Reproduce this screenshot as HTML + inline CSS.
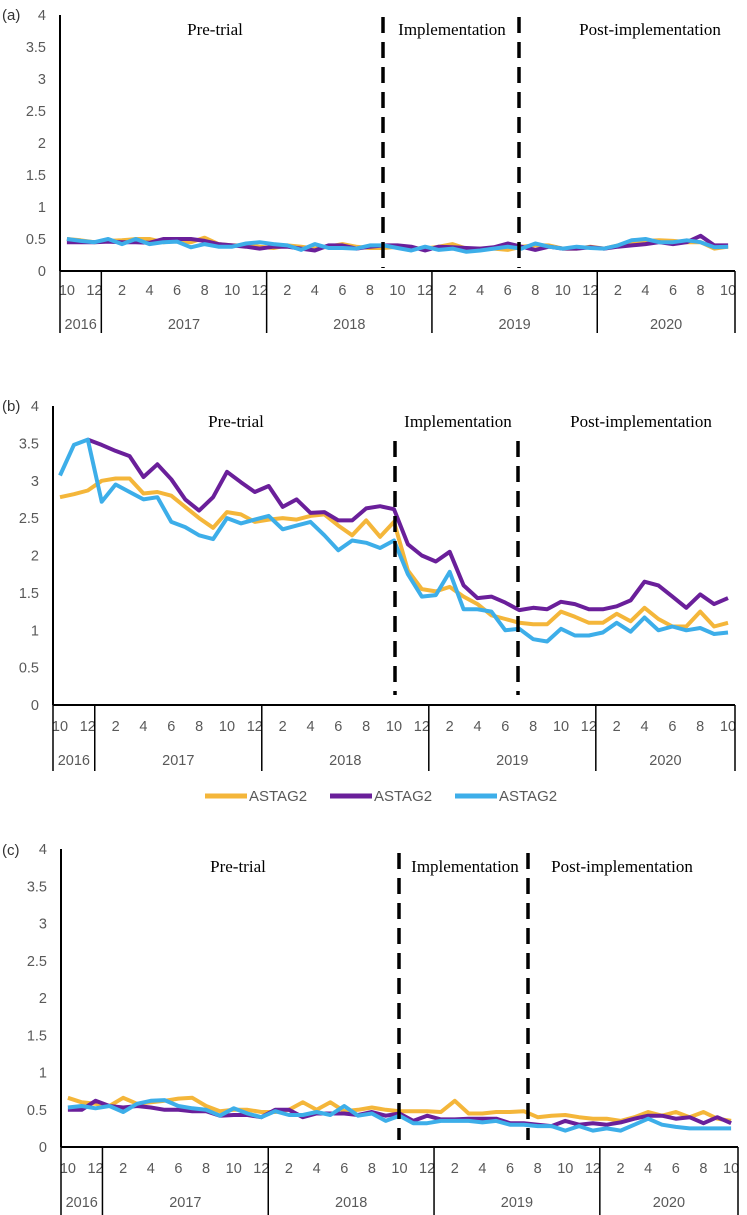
<!DOCTYPE html>
<html><head><meta charset="utf-8">
<style>
html,body{margin:0;padding:0;background:#fff;}
svg{display:block;}
.tick{font-family:"Liberation Sans",sans-serif;font-size:14.5px;fill:#595959;}
.ann{font-family:"Liberation Serif",serif;font-size:17px;fill:#000;}
.plab{font-family:"Liberation Sans",sans-serif;font-size:15px;fill:#333;}
</style></head>
<body>
<svg id="chart" width="747" height="1215" viewBox="0 0 747 1215" xmlns="http://www.w3.org/2000/svg"></svg>
<script>
const monthLabels = ["10","12","2","4","6","8","10","12","2","4","6","8","10","12","2","4","6","8","10","12","2","4","6","8","10"];
const yearLabels = ["2016","2017","2018","2019","2020"];
const yTicks = [0,0.5,1,1.5,2,2.5,3,3.5,4];
const seriesNames = ["ASTAG2","ASTAG2","ASTAG2"];
const seriesColors = ["#F4B63A","#6A1F9A","#3DAEE9"];

const aOrange = [0.5,0.48,0.45,0.47,0.48,0.5,0.5,0.45,0.47,0.45,0.52,0.42,0.4,0.4,0.38,0.36,0.4,0.38,0.35,0.38,0.42,0.38,0.36,0.36,0.38,0.36,0.35,0.38,0.42,0.35,0.35,0.35,0.33,0.38,0.4,0.4,0.35,0.35,0.38,0.35,0.4,0.42,0.47,0.48,0.47,0.45,0.45,0.35,0.38];
const aPurple = [0.45,0.45,0.45,0.46,0.45,0.45,0.44,0.5,0.5,0.5,0.47,0.42,0.4,0.38,0.35,0.38,0.38,0.35,0.32,0.4,0.4,0.35,0.38,0.4,0.4,0.38,0.32,0.38,0.37,0.36,0.35,0.37,0.43,0.38,0.33,0.38,0.35,0.35,0.37,0.35,0.38,0.4,0.42,0.45,0.42,0.45,0.55,0.4,0.4];
const aBlue = [0.5,0.47,0.45,0.5,0.42,0.5,0.42,0.45,0.46,0.37,0.42,0.38,0.38,0.43,0.45,0.42,0.4,0.33,0.42,0.36,0.36,0.35,0.4,0.4,0.36,0.32,0.38,0.33,0.35,0.3,0.32,0.35,0.38,0.35,0.43,0.38,0.35,0.38,0.36,0.35,0.4,0.48,0.5,0.45,0.45,0.48,0.45,0.37,0.38];

const bOrange = [2.78,2.82,2.87,3.0,3.03,3.03,2.83,2.85,2.8,2.65,2.5,2.37,2.58,2.55,2.45,2.48,2.5,2.48,2.53,2.55,2.4,2.27,2.47,2.25,2.45,1.8,1.55,1.52,1.58,1.45,1.35,1.2,1.15,1.1,1.08,1.08,1.25,1.18,1.1,1.1,1.22,1.12,1.3,1.15,1.05,1.05,1.25,1.05,1.1];
const bPurple = [null,null,3.55,3.48,3.4,3.33,3.05,3.22,3.02,2.75,2.6,2.78,3.12,2.98,2.85,2.93,2.65,2.75,2.57,2.58,2.47,2.47,2.63,2.66,2.62,2.15,2.0,1.92,2.05,1.6,1.43,1.45,1.37,1.27,1.3,1.28,1.38,1.35,1.28,1.28,1.32,1.4,1.65,1.6,1.45,1.3,1.48,1.35,1.43];
const bBlue = [3.07,3.48,3.55,2.72,2.95,2.85,2.75,2.78,2.45,2.38,2.27,2.22,2.5,2.43,2.48,2.53,2.35,2.4,2.45,2.27,2.07,2.2,2.17,2.1,2.2,1.75,1.45,1.47,1.78,1.28,1.28,1.25,1.0,1.02,0.88,0.85,1.02,0.93,0.93,0.97,1.1,0.98,1.17,1.0,1.05,1.0,1.03,0.95,0.97];

const cOrange = [0.66,0.6,0.58,0.55,0.66,0.58,0.6,0.62,0.65,0.66,0.55,0.48,0.5,0.5,0.47,0.47,0.5,0.6,0.5,0.6,0.48,0.5,0.53,0.5,0.48,0.48,0.48,0.47,0.62,0.45,0.45,0.47,0.47,0.48,0.4,0.42,0.43,0.4,0.38,0.38,0.35,0.4,0.47,0.42,0.47,0.4,0.47,0.38,0.35];
const cPurple = [0.5,0.5,0.62,0.55,0.53,0.55,0.53,0.5,0.5,0.48,0.48,0.42,0.43,0.43,0.4,0.5,0.5,0.4,0.45,0.45,0.45,0.43,0.47,0.42,0.45,0.35,0.42,0.37,0.37,0.38,0.38,0.38,0.32,0.32,0.3,0.28,0.35,0.3,0.32,0.3,0.33,0.38,0.42,0.42,0.38,0.4,0.32,0.4,0.32];
const cBlue = [0.53,0.55,0.52,0.55,0.47,0.58,0.62,0.63,0.55,0.52,0.5,0.42,0.52,0.45,0.4,0.48,0.43,0.43,0.47,0.43,0.55,0.42,0.45,0.35,0.42,0.32,0.32,0.35,0.35,0.35,0.33,0.35,0.3,0.3,0.28,0.28,0.22,0.28,0.22,0.25,0.22,0.3,0.38,0.3,0.27,0.25,0.25,0.25,0.25];

const NS = "http://www.w3.org/2000/svg";
const svg = document.getElementById("chart");
function mk(tag, attrs, parent, text){
  const e = document.createElementNS(NS, tag);
  for (const k in attrs) e.setAttribute(k, attrs[k]);
  if (text !== undefined) e.textContent = text;
  (parent || svg).appendChild(e);
  return e;
}

const panels = [
  {id:"a", left:60, right:735, zero:271, top:15, series:[aOrange,aPurple,aBlue], labY:295, yearY:329, sepBot:333,
   dash:[[383,17,268],[519,17,268]], ann:[["Pre-trial",215,35],["Implementation",452,35],["Post-implementation",650,35]], plabY:20},
  {id:"b", left:53, right:735, zero:705, top:406, series:[bOrange,bPurple,bBlue], labY:731, yearY:765, sepBot:771,
   dash:[[395,441,695],[518,441,695]], ann:[["Pre-trial",236,427],["Implementation",458,427],["Post-implementation",641,427]], plabY:411},
  {id:"c", left:61, right:738, zero:1147, top:849, series:[cOrange,cPurple,cBlue], labY:1173, yearY:1207, sepBot:1215,
   dash:[[399,853,1140],[528,853,1140]], ann:[["Pre-trial",238,872],["Implementation",465,872],["Post-implementation",622,872]], plabY:855}
];

panels.forEach(p => {
  const g = mk("g", {});
  
  
  const n = 49;
  const cw = (p.right - p.left) / n;
  const xS = i => p.left + cw * (i + 0.5);
  const yS = v => p.zero - v * (p.zero - p.top) / 4;

  const pl = mk("text", {x:2, y:p.plabY, class:"plab"}, g, "(" + p.id + ")");
  
  

  yTicks.forEach(t => {
    const tx = mk("text", {x:p.left - 14, y:yS(t) + 5, "text-anchor":"end", class:"tick"}, g, String(t));
    
    
  });

  const ya = mk("line", {x1:p.left, y1:p.top, x2:p.left, y2:p.zero, stroke:"#000", "stroke-width":2}, g);
  
  
  const xa = mk("line", {x1:p.left, y1:p.zero, x2:p.right, y2:p.zero, stroke:"#000", "stroke-width":2}, g);
  
  

  monthLabels.forEach((m, k) => {
    const tx = mk("text", {x:xS(k * 2), y:p.labY, "text-anchor":"middle", class:"tick"}, g, m);
    
    
  });
  const bounds = [0, 3, 15, 27, 39, 49];
  bounds.forEach(b => {
    const s = mk("line", {x1:p.left + cw * b, y1:p.zero, x2:p.left + cw * b, y2:p.sepBot, stroke:"#000", "stroke-width":1.5}, g);
    
    
  });
  yearLabels.forEach((yr, k) => {
    const cx = p.left + cw * (bounds[k] + bounds[k + 1]) / 2;
    const tx = mk("text", {x:cx, y:p.yearY, "text-anchor":"middle", class:"tick"}, g, yr);
    
    
  });

  p.series.forEach((arr, si) => {
    let d = "", pen = false;
    arr.forEach((v, i) => {
      if (v === null) { pen = false; return; }
      d += (pen ? "L" : "M") + xS(i).toFixed(1) + "," + yS(v).toFixed(1);
      pen = true;
    });
    const path = mk("path", {d:d, fill:"none", stroke:seriesColors[si], "stroke-width":4, "stroke-linejoin":"round"}, g);
    
    
  });

  p.dash.forEach(dl => {
    const l = mk("line", {x1:dl[0], y1:dl[1], x2:dl[0], y2:dl[2], stroke:"#000", "stroke-width":3.5, "stroke-dasharray":"16 9"}, g);
    
    
  });
  p.ann.forEach(a => {
    const t = mk("text", {x:a[1], y:a[2], "text-anchor":"middle", class:"ann"}, g, a[0]);
    
    
  });
});

const legX = [205, 330, 455];
seriesNames.forEach((nm, i) => {
  const lg = mk("g", {});
  
  
  mk("line", {x1:legX[i], y1:796, x2:legX[i] + 42, y2:796, stroke:seriesColors[i], "stroke-width":5}, lg);
  mk("text", {x:legX[i] + 44, y:801, class:"tick", style:"font-size:15px"}, lg, nm);
});
</script>
</body></html>
